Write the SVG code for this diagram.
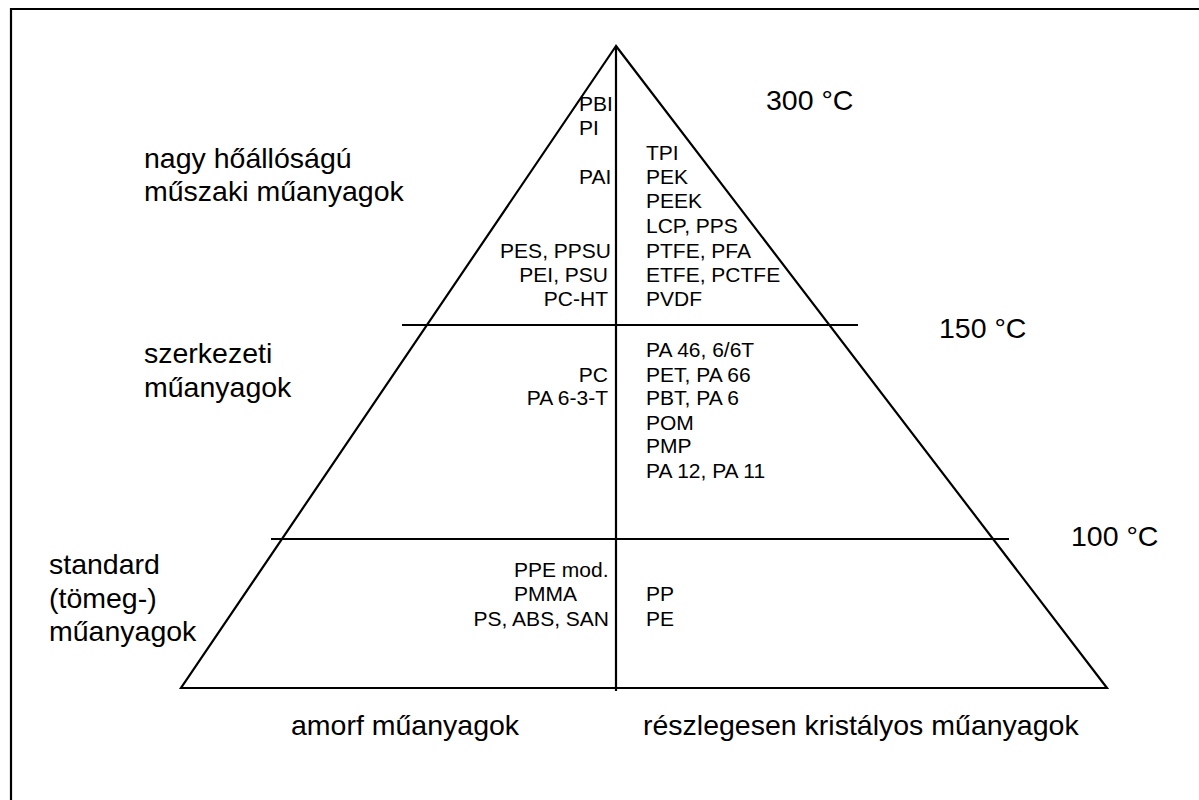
<svg xmlns="http://www.w3.org/2000/svg" width="1199" height="800" viewBox="0 0 1199 800">
<style>
.ln{stroke:#000;stroke-width:2.2;fill:none;stroke-linecap:butt}
text{font-family:"Liberation Sans",Arial,sans-serif;fill:#000}
.s{font-size:21px}
.b{font-size:28.5px}
.e{text-anchor:end}
</style>
<rect x="0" y="0" width="1199" height="800" fill="#fff"/>
<g id="frame">
<path class="ln" d="M11,800 V9 H1199"/>
</g>
<g id="pyramid">
<path class="ln" d="M616,46 L181,688 H1107 Z" stroke-linejoin="miter"/>
<line class="ln" x1="616" y1="46" x2="616" y2="691"/>
<line class="ln" x1="402" y1="325" x2="858" y2="325"/>
<line class="ln" x1="271" y1="539" x2="1009" y2="539"/>
</g>
<g id="level-high">
<text class="b" x="144" y="168">nagy hőállóságú</text>
<text class="b" x="144" y="201">műszaki műanyagok</text>
<text class="b" x="766" y="110">300 °C</text>
<g id="high-amorphous" class="s">
<text x="579" y="111">PBI</text>
<text x="579" y="135">PI</text>
<text x="579" y="184">PAI</text>
<text class="e" x="611" y="258">PES, PPSU</text>
<text class="e" x="608" y="282">PEI, PSU</text>
<text class="e" x="608" y="306">PC-HT</text>
</g>
<g id="high-crystalline" class="s">
<text x="646" y="160">TPI</text>
<text x="646" y="184">PEK</text>
<text x="646" y="208">PEEK</text>
<text x="646" y="233">LCP, PPS</text>
<text x="646" y="258">PTFE, PFA</text>
<text x="646" y="282">ETFE, PCTFE</text>
<text x="646" y="306">PVDF</text>
</g>
</g>
<g id="level-structural">
<text class="b" x="144" y="363">szerkezeti</text>
<text class="b" x="144" y="397">műanyagok</text>
<text class="b" x="939" y="338">150 °C</text>
<g id="structural-amorphous" class="s">
<text class="e" x="608" y="382">PC</text>
<text class="e" x="608" y="405">PA 6-3-T</text>
</g>
<g id="structural-crystalline" class="s">
<text x="646" y="357">PA 46, 6/6T</text>
<text x="646" y="382">PET, PA 66</text>
<text x="646" y="405">PBT, PA 6</text>
<text x="646" y="430">POM</text>
<text x="646" y="453">PMP</text>
<text x="646" y="478">PA 12, PA 11</text>
</g>
</g>
<g id="level-standard">
<text class="b" x="49" y="574">standard</text>
<text class="b" x="49" y="608">(tömeg-)</text>
<text class="b" x="49" y="641">műanyagok</text>
<text class="b" x="1071" y="546">100 °C</text>
<g id="standard-amorphous" class="s">
<text x="514" y="577">PPE mod.</text>
<text x="514" y="601">PMMA</text>
<text class="e" x="609" y="626">PS, ABS, SAN</text>
</g>
<g id="standard-crystalline" class="s">
<text x="646" y="601">PP</text>
<text x="646" y="626">PE</text>
</g>
</g>
<g id="axis-labels">
<text class="b" x="291" y="735">amorf műanyagok</text>
<text class="b" x="643" y="735">részlegesen kristályos műanyagok</text>
</g>
</svg>
